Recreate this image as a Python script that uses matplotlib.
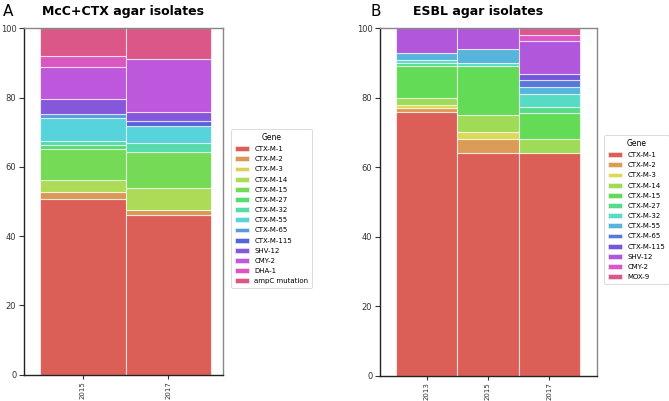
import matplotlib
matplotlib.use("Agg")
import matplotlib.pyplot as plt
from matplotlib.patches import Patch
import seaborn as sns

# ---------------- data ----------------
genes_a = ["CTX-M-1", "CTX-M-2", "CTX-M-3", "CTX-M-14", "CTX-M-15", "CTX-M-27",
           "CTX-M-32", "CTX-M-55", "CTX-M-65", "CTX-M-115", "SHV-12", "CMY-2",
           "DHA-1", "ampC mutation"]
years_a = ["2015", "2017"]
pct_a_2015 = [50.6, 2.2, 0.0, 3.4, 9.0, 1.1, 1.1, 6.7, 1.1, 0.0, 4.5, 9.0, 3.4, 7.9]
pct_a_2017 = [46.2, 1.3, 0.0, 6.4, 10.3, 0.0, 2.6, 5.1, 0.0, 1.3, 2.6, 15.4, 0.0, 9.0]

genes_b = ["CTX-M-1", "CTX-M-2", "CTX-M-3", "CTX-M-14", "CTX-M-15", "CTX-M-27",
           "CTX-M-32", "CTX-M-55", "CTX-M-65", "CTX-M-115", "SHV-12", "CMY-2", "MOX-9"]
years_b = ["2013", "2015", "2017"]
pct_b_2013 = [76.0, 1.0, 1.0, 2.0, 9.0, 1.0, 1.0, 2.0, 0.0, 0.0, 7.0, 0.0, 0.0]
pct_b_2015 = [64.0, 4.0, 2.0, 5.0, 14.0, 0.0, 1.0, 4.0, 0.0, 0.0, 6.0, 0.0, 0.0]
pct_b_2017 = [64.2, 0.0, 0.0, 3.8, 7.5, 1.9, 3.8, 1.9, 1.9, 1.9, 9.4, 1.9, 1.9]

yticks = [0, 20, 40, 60, 80, 100]

# ---------------- figure ----------------
W, H = 669, 401
fig = plt.figure(figsize=(W / 100, H / 100), dpi=100)


def px_axes(l, t, r, b):
    return fig.add_axes([l / W, 1 - b / H, (r - l) / W, (b - t) / H])


def stacked(ax, years, rows, genes, xlim):
    cols = sns.color_palette("hls", len(genes))
    for xi, vals in enumerate(rows):
        bottom = 0.0
        for gi, v in enumerate(vals):
            if v > 0:
                ax.bar(xi, v, bottom=bottom, width=1.0, color=cols[gi],
                       edgecolor=(1, 1, 1, 0.65), linewidth=0.8)
            bottom += v
    ax.set_xlim(*xlim)
    ax.set_ylim(0, 100)
    ax.set_xticks(range(len(years)))
    ax.set_xticklabels(years, rotation=90, fontsize=5)
    ax.set_yticks(yticks)
    ax.set_yticklabels([str(t) for t in yticks], fontsize=6)
    ax.tick_params(axis="y", length=3.5, width=0.8, colors="#333333", pad=2)
    ax.tick_params(axis="x", length=3.0, width=0.8, colors="#333333", pad=1.5)
    for s in ["left", "bottom"]:
        ax.spines[s].set_color("#222222")
        ax.spines[s].set_linewidth(1.0)
    for s in ["top", "right"]:
        ax.spines[s].set_color("#888888")
        ax.spines[s].set_linewidth(1.0)
    return cols


def legend(ax, genes, cols, x, y):
    handles = [Patch(facecolor=c, edgecolor=(1, 1, 1, 0.65), linewidth=0.5) for c in cols]
    leg = fig.legend(handles, genes, title="Gene", fontsize=5, title_fontsize=5.5,
                     loc="upper left", bbox_to_anchor=(x / W, 1 - y / H),
                     frameon=True, borderpad=0.5, labelspacing=0.6,
                     handlelength=2.0, handletextpad=0.8)
    leg.get_frame().set_edgecolor("#cccccc")
    leg.get_frame().set_linewidth(0.6)


axA = px_axes(24, 28.3, 223, 374.6)
colsA = stacked(axA, years_a, [pct_a_2015, pct_a_2017], genes_a, (-0.687, 1.64))
legend(axA, genes_a, colsA, 228, 126)

axB = px_axes(380, 28.3, 597, 375.5)
colsB = stacked(axB, years_b, [pct_b_2013, pct_b_2015, pct_b_2017], genes_b, (-0.761, 2.78))
legend(axB, genes_b, colsB, 601, 132)

fig.text(123 / W, 1 - 12 / H, "McC+CTX agar isolates", ha="center", va="center",
         fontsize=9, fontweight="bold")
fig.text(478 / W, 1 - 12 / H, "ESBL agar isolates", ha="center", va="center",
         fontsize=9, fontweight="bold")
fig.text(3 / W, 1 - 12 / H, "A", ha="left", va="center", fontsize=11)
fig.text(370 / W, 1 - 12 / H, "B", ha="left", va="center", fontsize=11)

fig.savefig("out.png", dpi=100)
